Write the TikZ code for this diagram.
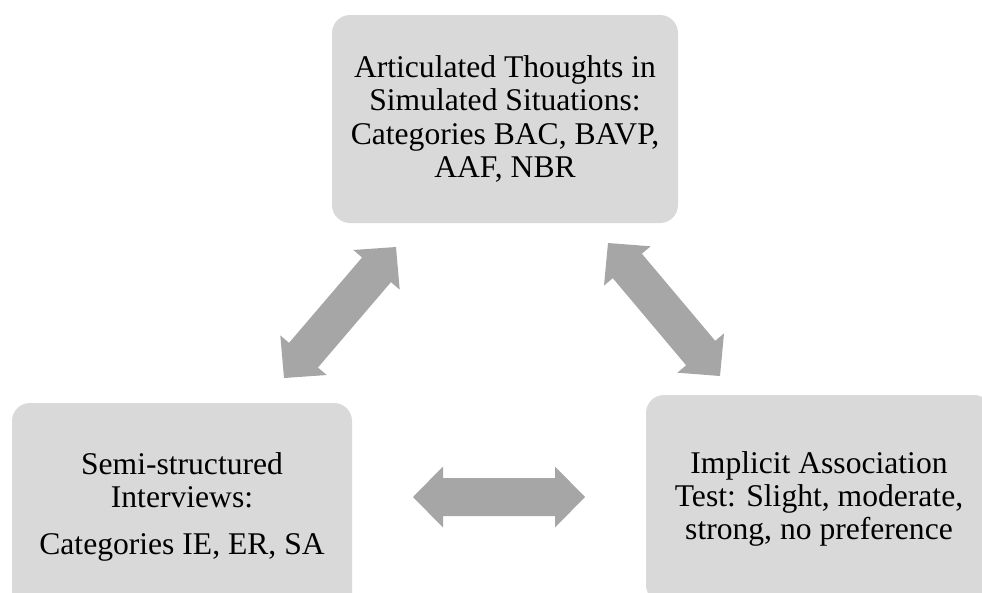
\documentclass[tikz,border=0pt]{standalone}
\usepackage{fontspec}
\setmainfont{Liberation Serif}
\usetikzlibrary{calc}

\definecolor{boxgray}{HTML}{D9D9D9}
\definecolor{arrowgray}{HTML}{A6A6A6}

\tikzset{
  panel/.style={fill=boxgray, draw=none, rounded corners=18pt,
    minimum width=346pt, minimum height=208pt, inner sep=0pt,
    align=center, font=\fontsize{31.6}{33.3}\selectfont},
}

% head length, head half-width, shaft half-width of the block arrows
\newcommand\hdlen{30pt}
\newcommand\hdwid{30.5pt}
\newcommand\shwid{19pt}

% double-headed block arrow between two named coordinates
\newcommand\dblblock[2]{%
  \fill[arrowgray] (#1)
    -- ($(#1)!\hdlen!(#2)!\hdwid!90:(#2)$)
    -- ($(#1)!\hdlen!(#2)!\shwid!90:(#2)$)
    -- ($(#2)!\hdlen!(#1)!\shwid!90:(#2)$)
    -- ($(#2)!\hdlen!(#1)!\hdwid!90:(#2)$)
    -- (#2)
    -- ($(#2)!\hdlen!(#1)!\hdwid!-90:(#2)$)
    -- ($(#2)!\hdlen!(#1)!\shwid!-90:(#2)$)
    -- ($(#1)!\hdlen!(#2)!\shwid!-90:(#2)$)
    -- ($(#1)!\hdlen!(#2)!\hdwid!-90:(#2)$)
    -- cycle;}

\begin{document}
\begin{tikzpicture}[x=1pt,y=-1pt]
\useasboundingbox (0,0) rectangle (982,592);

\begin{scope}
  \clip (0,0) rectangle (982,592);
  \node[panel] (sim) at (505,119)
    {Articulated Thoughts in\\Simulated Situations:\\Categories BAC, BAVP,\\AAF, NBR};
  \node[panel, minimum width=340pt] (semi) at (182,507)
    {Semi-structured\\Interviews:\\[14pt]Categories IE, ER, SA};
  \node[panel] (iat) at (819,499)
    {Implicit Association\\Test: Slight, moderate,\\strong, no preference};
\end{scope}

% arrow ends
\coordinate (semiend) at (284,378);
\coordinate (simleft) at (396,247);
\coordinate (simright) at (608,243);
\coordinate (iatend) at (720,376);
\coordinate (semiright) at (413,497);
\coordinate (iatleft) at (585,497);

\dblblock{semiend}{simleft}
\dblblock{simright}{iatend}
\dblblock{semiright}{iatleft}
\end{tikzpicture}
\end{document}
